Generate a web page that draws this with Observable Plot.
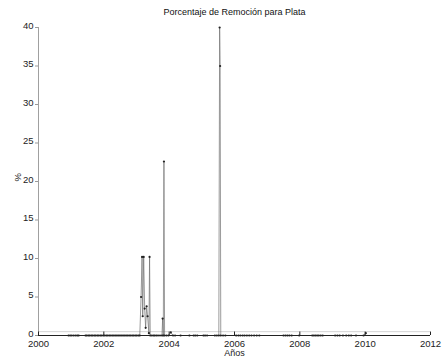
<!DOCTYPE html>
<html><head><meta charset="utf-8">
<script src="https://cdn.jsdelivr.net/npm/d3@7"></script>
<script src="https://cdn.jsdelivr.net/npm/@observablehq/plot@0.6"></script>
<style>body{margin:0;background:#fff}</style>
</head><body><div id="chart"></div>
<script>
const title = "Porcentaje de Remoción para Plata";
const xLabel = "Años";
const yLabel = "%";
const xTicks = [2000, 2002, 2004, 2006, 2008, 2010, 2012];
const yTicks = [0, 5, 10, 15, 20, 25, 30, 35, 40];
const threshold = 0.5;

// samples at (near) zero
const zeroYears = [2000.92,2000.97,2001.02,2001.08,2001.14,2001.19,2001.23,
  2001.44,2001.48,2001.53,2001.57,2001.62,2001.66,2001.71,2001.75,2001.80,2001.84,2001.89,2001.93,2001.98,
  2002.02,2002.07,2002.11,2002.16,2002.20,2002.25,2002.29,2002.34,2002.38,2002.43,2002.47,2002.52,2002.56,
  2002.61,2002.65,2002.70,2002.74,2002.79,2002.83,2002.88,2002.92,2002.97,2003.01,2003.06,
  2003.47,2003.52,2003.56,2003.61,2003.66,2003.72,2003.92,2003.98,2004.12,2004.18,2004.35,2004.62,
  2004.75,2004.80,2004.86,2005.05,2005.10,2005.16,2005.40,2005.46,2005.65,2005.72,
  2006.05,2006.12,2006.18,2006.25,2006.31,2006.38,2006.45,2006.52,2006.60,2006.68,2006.76,
  2007.50,2007.56,2007.62,2007.68,2007.75,2007.98,
  2008.38,2008.43,2008.48,2008.53,2008.58,2008.64,2008.70,
  2009.08,2009.15,2009.22,2009.32,2009.42,2009.50,2009.57,2009.72,2009.95];

// non-zero samples
const peakYears  = [2003.10,2003.14,2003.17,2003.19,2003.22,2003.25,2003.28,2003.31,2003.34,2003.38,2003.40,2003.42,
  2003.78,2003.80,2003.82,2003.84,2003.86,2004.05,2005.52,2005.545,2005.56,2005.58,2010.02];
const peakValues = [0,5,10.2,2.5,10.2,3.5,1,3.8,2.5,0.3,10.2,0,
  0,2.2,0,22.6,0,0.4,0,40,35,0,0.3];

const data = zeroYears.map(y => ({year: y, value: 0}))
  .concat(peakYears.map((y, i) => ({year: y, value: peakValues[i]})))
  .sort((a, b) => a.year - b.year);

const chart = Plot.plot({
  width: 443, height: 360,
  marginTop: 27, marginRight: 13, marginBottom: 25, marginLeft: 38,
  style: {fontFamily: "'Liberation Sans', Arial, sans-serif", fontSize: "9px", background: "#fff", color: "#222"},
  x: {domain: [2000, 2012]},
  y: {domain: [0, 40]},
  marks: [
    Plot.ruleY([threshold], {stroke: "#d4d4d4", strokeWidth: 1}),
    Plot.line(data, {x: "year", y: "value", stroke: "#707070", strokeWidth: 0.7}),
    Plot.ruleX([xTicks[0]], {stroke: "#a0a0a0", strokeWidth: 1}),
    Plot.ruleY([yTicks[0]], {stroke: "#222", strokeWidth: 1}),
    Plot.dot(data, {x: "year", y: "value", r: 1.1, fill: "#222", stroke: "none"}),
    Plot.ruleX(xTicks, {x: d => d, y1: 0, y2: 0.45, stroke: "#222"}),
    Plot.axisX({ticks: xTicks, tickFormat: d => String(d), tickSize: 0, tickPadding: 5, label: null, fontSize: 9.5}),
    Plot.axisY({ticks: yTicks, tickSize: 3, text: null, label: null, stroke: "#999"}),
    Plot.axisY({ticks: yTicks, tickSize: 0, tickPadding: 5, label: null, fontSize: 9.5, dy: -2}),
    Plot.text([title], {frameAnchor: "top", dy: -19, fontSize: 9, fill: "#111"}),
    Plot.text([yLabel], {frameAnchor: "left", dx: -21, rotate: -90, fontSize: 9.5, fill: "#222"}),
    Plot.text([xLabel], {frameAnchor: "bottom", dy: 20.5, fontSize: 9, fill: "#222"})
  ]
});
document.getElementById("chart").appendChild(chart);
</script>
</body></html>
